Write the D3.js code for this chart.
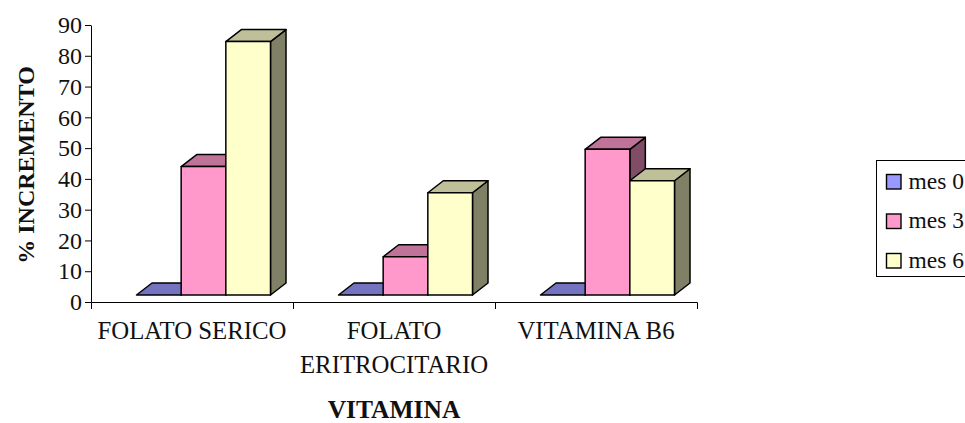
<!DOCTYPE html>
<html>
<head>
<meta charset="utf-8">
<script src="https://cdn.jsdelivr.net/npm/d3@7/dist/d3.min.js"></script>
<style>
  html, body { margin: 0; padding: 0; background: #fff; overflow: hidden; }
  svg { display: block; }
  text { font-family: "Liberation Serif", "Times New Roman", serif; fill: #111; }
</style>
</head>
<body>
<svg id="chart" width="965" height="423"></svg>
<script>
// Increment of each vitamin measure at months 0, 3 and 6
const categories = ["FOLATO SERICO", "FOLATO ERITROCITARIO", "VITAMINA B6"];
const seriesNames = ["mes 0", "mes 3", "mes 6"];
const mes0 = [0, 0, 0];
const mes3 = [44, 14.7, 49.6];
const mes6 = [84.6, 35.5, 39.4];
const yTicks = [0, 10, 20, 30, 40, 50, 60, 70, 80, 90];
const labelLines = [["FOLATO SERICO"], ["FOLATO", "ERITROCITARIO"], ["VITAMINA B6"]];
const frontColors = ["#9999FF", "#FF99CC", "#FFFFCC"];
const topColors = ["#7373BF", "#BF7399", "#BFBF99"];
const sideColors = ["#4D4D80", "#804D66", "#808066"];

const seriesValues = [mes0, mes3, mes6];
const svg = d3.select("#chart");

const y = d3.scaleLinear().domain([0, 90]).range([302, 25]);
const x0 = d3.scaleBand().domain(categories).range([91, 697]);
const x1 = d3.scaleBand().domain(seriesNames).range([45.5, 179.5]);

// Extrusion of the bars and the lift of the floor above the axis line
const depthX = 15.5, depthY = 12, floorLift = 7;
const floorY = y(0) - floorLift;

const poly = pts => pts.map(p => p.join(",")).join(" ");

// Bars, left to right so each one overlaps the extruded side of the previous
const bars = svg.append("g")
  .attr("stroke", "#000").attr("stroke-width", 1.5).attr("stroke-linejoin", "round");

categories.forEach((cat, c) => {
  seriesNames.forEach((name, s) => {
    const l = x0(cat) + x1(name), r = l + x1.bandwidth();
    const t = Math.min(y(seriesValues[s][c]), floorY);
    const g = bars.append("g");
    g.append("polygon").attr("fill", sideColors[s]).attr("points", poly([
      [r, t], [r + depthX, t - depthY], [r + depthX, floorY - depthY], [r, floorY]]));
    g.append("polygon").attr("fill", topColors[s]).attr("points", poly([
      [l, t], [l + depthX, t - depthY], [r + depthX, t - depthY], [r, t]]));
    g.append("rect").attr("fill", frontColors[s])
      .attr("x", l).attr("y", t).attr("width", r - l).attr("height", floorY - t);
  });
});

// Value axis
const yAxis = svg.append("g").attr("transform", "translate(91,0)")
  .call(d3.axisLeft(y).tickValues(yTicks).tickSize(6).tickSizeOuter(0).tickPadding(3));
yAxis.selectAll("text").attr("font-size", 24).attr("font-family", null).style("fill", "#111");

// Category axis: outer ticks close the axis, inner ticks mark the group boundaries
const xAxis = svg.append("g").attr("transform", `translate(0,${y(0)})`)
  .call(d3.axisBottom(x0).tickSizeInner(0).tickSizeOuter(7).tickPadding(0).tickFormat(""));
xAxis.selectAll(".group-tick").data(categories.slice(1))
  .join("line").attr("class", "group-tick")
  .attr("x1", d => x0(d) + 0.5).attr("x2", d => x0(d) + 0.5)
  .attr("y1", 0).attr("y2", 7).attr("stroke", "#000");

// Group labels, one or two lines centred under each group
xAxis.selectAll(".tick text").each(function (d) {
  const label = d3.select(this).attr("font-size", 24.8).attr("font-family", null)
    .style("fill", "#111").attr("y", null).attr("dy", null);
  label.text(null);
  labelLines[categories.indexOf(d)].forEach((line, i) => {
    label.append("tspan").attr("x", 0).attr("y", 37 + i * 34).text(line);
  });
});

// Axis titles
svg.append("text").attr("x", 394).attr("y", 418).attr("text-anchor", "middle")
  .attr("font-size", 25.5).attr("font-weight", "bold").text("VITAMINA");
svg.append("text").attr("transform", "translate(33.5,165) rotate(-90)").attr("text-anchor", "middle")
  .attr("font-size", 24).attr("font-weight", "bold").text("% INCREMENTO");

// Legend, whose frame runs off the right edge
const legend = svg.append("g");
legend.append("rect").attr("x", 876.5).attr("y", 160.5).attr("width", 120).attr("height", 116)
  .attr("fill", "#fff").attr("stroke", "#000");
const legendY = d3.scalePoint().domain(seriesNames).range([181.5, 260.5]);
seriesNames.forEach((name, s) => {
  legend.append("rect").attr("x", 886.5).attr("y", legendY(name) - 7).attr("width", 14.5).attr("height", 14.5)
    .attr("fill", frontColors[s]).attr("stroke", "#000").attr("stroke-width", 1.4);
  legend.append("text").attr("x", 908.5).attr("y", legendY(name) + 7).attr("font-size", 23.5).text(name);
});
</script>
</body>
</html>
